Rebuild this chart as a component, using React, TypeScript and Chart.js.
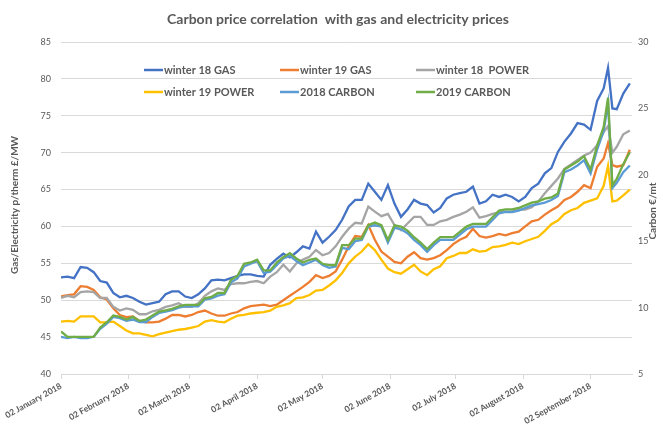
import React, { useEffect, useRef } from 'react';
import { Chart, registerables } from 'chart.js';

Chart.register(...registerables);

// Days elapsed since 02 January 2018
const days = [
  0, 3, 6, 9, 12, 15, 18, 21, 24, 27, 30, 33, 36, 39, 42, 45, 48, 51, 54, 57,
  60, 63, 66, 69, 72, 75, 78, 81, 84, 87, 90, 93, 96, 99, 102, 105, 108, 111, 114, 117,
  120, 123, 126, 129, 132, 135, 138, 141, 144, 147, 150, 153, 156, 159, 162, 165, 168, 171, 174, 177,
  180, 183, 186, 189, 192, 195, 198, 201, 204, 207, 210, 213, 216, 219, 222, 225, 228, 231, 234, 237,
  240, 243, 246, 249, 251, 253, 255, 258, 261,
];

const monthTickDays = [0, 31, 59, 90, 120, 151, 181, 212, 243];
const monthTickLabels = [
  '02 January 2018', '02 February 2018', '02 March 2018', '02 April 2018', '02 May 2018',
  '02 June 2018', '02 July 2018', '02 August 2018', '02 September 2018',
];

const leftTicks = [40, 45, 50, 55, 60, 65, 70, 75, 80, 85];
const rightTicks = [5, 10, 15, 20, 25, 30];

const winter18Gas = [
  53.1, 53.2, 53.0, 54.5, 54.4, 53.8, 52.6, 52.4, 51.0, 50.4,
  50.6, 50.3, 49.8, 49.4, 49.6, 49.8, 50.8, 51.2, 51.2, 50.5,
  50.3, 50.8, 51.6, 52.7, 52.8, 52.7, 53.0, 53.3, 53.5, 53.5,
  53.3, 53.2, 54.8, 55.6, 56.3, 55.8, 56.5, 57.3, 57.0, 59.3,
  57.8, 58.6, 59.5, 60.9, 62.7, 63.6, 63.6, 65.8, 64.7, 63.6,
  65.6, 63.1, 61.3, 62.3, 63.6, 63.1, 62.9, 61.9, 62.5, 63.8,
  64.3, 64.5, 64.7, 65.4, 63.1, 63.4, 64.3, 64.0, 64.3, 64.0,
  63.4, 64.0, 65.2, 65.8, 67.2, 67.9, 70.1, 71.5, 72.6, 74.0,
  73.8, 73.1, 77.0, 78.7, 81.5, 76.0, 75.9, 78.0, 79.4,
];

const winter19Gas = [
  50.5, 50.7, 50.8, 51.9, 51.8, 51.4, 50.4, 50.1, 48.9, 48.0,
  47.7, 47.8, 47.2, 47.0, 47.0, 47.1, 47.5, 48.0, 48.0, 47.8,
  48.0, 48.4, 48.6, 48.2, 47.9, 47.9, 48.2, 48.4, 48.9, 49.2,
  49.3, 49.4, 49.2, 49.4, 50.0, 50.6, 51.2, 51.8, 52.5, 53.4,
  53.0, 53.3, 53.9, 55.5, 57.3, 58.7, 58.6, 60.2, 58.2, 56.6,
  55.9, 55.2, 55.0, 55.9, 56.5, 55.7, 55.5, 55.7, 56.1, 56.8,
  57.6, 58.2, 58.6, 59.7, 58.7, 58.5, 58.7, 59.0, 58.8, 59.1,
  59.3, 60.0, 60.7, 60.9, 61.6, 62.2, 62.7, 63.6, 64.0, 64.7,
  65.6, 65.2, 68.1, 69.2, 71.3, 68.3, 68.1, 68.3, 70.4,
];

const winter18Power = [
  50.3, 50.6, 50.4, 51.1, 51.2, 51.1, 50.3, 50.3, 49.1, 48.6,
  48.9, 48.7, 48.1, 48.1, 48.5, 48.7, 49.1, 49.3, 49.6, 49.1,
  49.1, 49.6, 50.6, 51.2, 51.6, 51.4, 52.2, 52.3, 52.3, 52.5,
  52.6, 52.3, 53.2, 53.8, 54.8, 53.9, 55.0, 55.5, 55.9, 56.8,
  56.1, 56.4, 57.3, 58.6, 59.7, 60.5, 60.4, 62.7, 62.0, 61.4,
  61.7, 60.2, 59.5, 60.4, 61.3, 61.3, 60.2, 60.2, 60.7, 60.9,
  61.3, 61.6, 62.0, 62.6, 61.2, 61.4, 61.7, 61.9, 62.0, 62.0,
  62.3, 62.3, 62.6, 63.4, 64.5, 65.5, 66.5, 67.8, 68.4, 69.0,
  69.6, 70.0, 71.0, 72.8, 73.6, 70.0, 70.8, 72.5, 73.0,
];

const winter19Power = [
  47.1, 47.2, 47.1, 47.8, 47.8, 47.8, 47.0, 47.0, 47.1, 46.5,
  45.9, 45.5, 45.5, 45.3, 45.1, 45.4, 45.6, 45.8, 46.0, 46.1,
  46.3, 46.5, 47.1, 47.3, 47.1, 47.0, 47.5, 47.9, 48.0, 48.2,
  48.3, 48.4, 48.6, 49.1, 49.3, 49.6, 50.3, 50.4, 50.7, 51.3,
  51.4, 52.0, 52.7, 53.7, 55.0, 55.9, 56.6, 57.6, 56.8, 55.5,
  54.3, 53.8, 53.6, 54.2, 54.8, 53.9, 53.4, 54.2, 54.6, 55.7,
  56.0, 56.4, 56.4, 56.9, 56.6, 56.7, 57.2, 57.3, 57.5, 57.8,
  57.6, 58.0, 58.3, 58.6, 59.4, 60.3, 60.8, 61.7, 62.2, 62.5,
  63.2, 63.5, 63.8, 65.5, 68.2, 63.4, 63.5, 64.2, 65.0,
];

const carbon2018 = [
  7.8, 7.7, 7.8, 7.7, 7.7, 7.8, 8.4, 8.8, 9.3, 9.2,
  9.0, 9.1, 8.9, 8.9, 9.3, 9.6, 9.7, 9.8, 10.0, 10.1,
  10.1, 10.1, 10.6, 10.7, 10.9, 11.0, 11.9, 12.2, 13.1, 13.3,
  13.5, 12.6, 12.7, 13.2, 13.7, 13.9, 13.5, 13.2, 13.4, 13.6,
  13.2, 13.0, 13.1, 14.5, 14.4, 15.0, 15.1, 16.1, 16.2, 16.1,
  14.9, 16.0, 15.9, 15.6, 15.1, 14.7, 14.2, 14.7, 15.1, 15.1,
  15.1, 15.5, 15.9, 16.1, 16.1, 16.1, 16.6, 17.1, 17.2, 17.2,
  17.3, 17.5, 17.7, 17.8, 17.9, 18.1, 18.4, 20.2, 20.4, 20.7,
  21.1, 20.1, 21.9, 23.3, 25.4, 19.0, 19.4, 20.2, 20.7,
];

const carbon2019 = [
  8.2, 7.8, 7.8, 7.8, 7.8, 7.8, 8.5, 8.9, 9.4, 9.3,
  9.1, 9.3, 9.0, 9.1, 9.4, 9.7, 9.8, 9.9, 10.1, 10.2,
  10.2, 10.2, 10.7, 10.8, 11.1, 11.1, 12.1, 12.4, 13.3, 13.4,
  13.6, 12.8, 12.8, 13.4, 13.8, 14.1, 13.7, 13.4, 13.6, 13.7,
  13.3, 13.2, 13.2, 14.7, 14.7, 15.2, 15.2, 16.2, 16.4, 16.2,
  15.1, 16.2, 16.1, 15.8, 15.3, 14.9, 14.4, 14.9, 15.3, 15.3,
  15.3, 15.7, 16.1, 16.3, 16.3, 16.3, 16.8, 17.3, 17.4, 17.4,
  17.5, 17.7, 17.9, 18.0, 18.2, 18.3, 18.6, 20.4, 20.7, 21.0,
  21.4, 20.4, 22.2, 23.6, 25.8, 19.2, 19.7, 20.8, 21.7,
];

const seriesNames = ['winter 18 GAS', 'winter 19 GAS', 'winter 18  POWER', 'winter 19 POWER', '2018 CARBON', '2019 CARBON'];
const seriesColors = ['#4472C4', '#ED7D31', '#A5A5A5', '#FFC000', '#5B9BD5', '#70AD47'];

const titleText = 'Carbon price correlation  with gas and electricity prices';
const leftAxisTitle = 'Gas/Electricity p/therm £/MW';
const rightAxisTitle = 'Carbon €/mt';

const FONT = 'Lato, "Liberation Sans", Arial, sans-serif';
const TEXT = '#595959';
const GRID = '#d9d9d9';

export default function App() {
  const ref = useRef<HTMLCanvasElement>(null);

  useEffect(() => {
    document.body.style.margin = '0';
    const canvas = ref.current;
    if (!canvas) return;

    const toPoints = (vals: number[]) => days.map((d, i) => ({ x: d, y: vals[i] }));
    const allSeries = [winter18Gas, winter19Gas, winter18Power, winter19Power, carbon2018, carbon2019];
    const axisOf = ['y', 'y', 'y', 'y', 'y2', 'y2'];

    const overlay = {
      id: 'overlay',
      afterDraw(chart: any) {
        const ctx = chart.ctx as CanvasRenderingContext2D;
        ctx.save();
        ctx.fillStyle = TEXT;
        ctx.textBaseline = 'middle';
        // Title
        ctx.font = `bold 14px ${FONT}`;
        ctx.textAlign = 'center';
        ctx.fillText(titleText, 338, 19);
        // Legend
        const colX = [144, 280, 416];
        const rowY = [70, 92];
        ctx.font = `bold 11px ${FONT}`;
        ctx.textAlign = 'left';
        seriesNames.forEach((name, i) => {
          const x = colX[i % 3];
          const y = rowY[Math.floor(i / 3)];
          ctx.strokeStyle = seriesColors[i];
          ctx.lineWidth = 2.5;
          ctx.beginPath();
          ctx.moveTo(x, y);
          ctx.lineTo(x + 19, y);
          ctx.stroke();
          ctx.fillText(name, x + 20, y + 0.5);
        });
        // Axis titles
        ctx.font = `bold 10px ${FONT}`;
        ctx.textAlign = 'center';
        ctx.save();
        ctx.translate(15, 205);
        ctx.rotate(-Math.PI / 2);
        ctx.fillText(leftAxisTitle, 0, 0);
        ctx.restore();
        ctx.save();
        ctx.translate(653, 211);
        ctx.rotate(-Math.PI / 2);
        ctx.fillText(rightAxisTitle, 0, 0);
        ctx.restore();
        ctx.restore();
      },
    };

    const chart = new Chart(canvas, {
      type: 'line',
      data: {
        datasets: allSeries.map((vals, i) => ({
          label: seriesNames[i],
          data: toPoints(vals),
          borderColor: seriesColors[i],
          backgroundColor: seriesColors[i],
          borderWidth: 2.3,
          pointRadius: 0,
          tension: 0,
          yAxisID: axisOf[i],
          order: 6 - i,
        })),
      },
      options: {
        animation: false,
        responsive: false,
        maintainAspectRatio: false,
        layout: { padding: { top: 42, left: 0, right: 0, bottom: 0 } },
        plugins: {
          legend: { display: false },
          tooltip: { enabled: false },
          title: { display: false },
        },
        scales: {
          x: {
            type: 'linear',
            min: 0,
            max: 262,
            afterBuildTicks: (s: any) => {
              s.ticks = monthTickDays.map((v) => ({ value: v }));
            },
            afterFit: (s: any) => {
              s.height = 62;
            },
            ticks: {
              autoSkip: false,
              minRotation: 29,
              maxRotation: 29,
              padding: 2,
              color: TEXT,
              font: { family: FONT, size: 8.5, weight: 'bold' },
              callback: (v: any) => {
                const idx = monthTickDays.indexOf(Number(v));
                return idx >= 0 ? monthTickLabels[idx] : '';
              },
            },
            grid: { drawOnChartArea: false, drawTicks: true, tickLength: 5, color: GRID },
            border: { display: true, color: GRID },
          },
          y: {
            position: 'left',
            min: 40,
            max: 85,
            afterBuildTicks: (s: any) => {
              s.ticks = leftTicks.map((v) => ({ value: v }));
            },
            afterFit: (s: any) => {
              s.width = 61;
            },
            ticks: {
              padding: 10,
              color: TEXT,
              font: { family: FONT, size: 9 },
            },
            grid: { color: GRID, drawTicks: false, lineWidth: 1 },
            border: { display: false },
          },
          y2: {
            position: 'right',
            min: 5,
            max: 30,
            afterBuildTicks: (s: any) => {
              s.ticks = rightTicks.map((v) => ({ value: v }));
            },
            afterFit: (s: any) => {
              s.width = 31;
            },
            ticks: {
              padding: 6,
              color: TEXT,
              font: { family: FONT, size: 9 },
            },
            grid: { drawOnChartArea: false, drawTicks: false },
            border: { display: false },
          },
        },
      } as any,
      plugins: [overlay],
    });

    return () => chart.destroy();
  }, []);

  return (
    <div style={{ position: 'absolute', left: 0, top: 0, width: 663, height: 436, background: '#fff' }}>
      <canvas ref={ref} width={663} height={436} style={{ display: 'block' }} />
    </div>
  );
}
